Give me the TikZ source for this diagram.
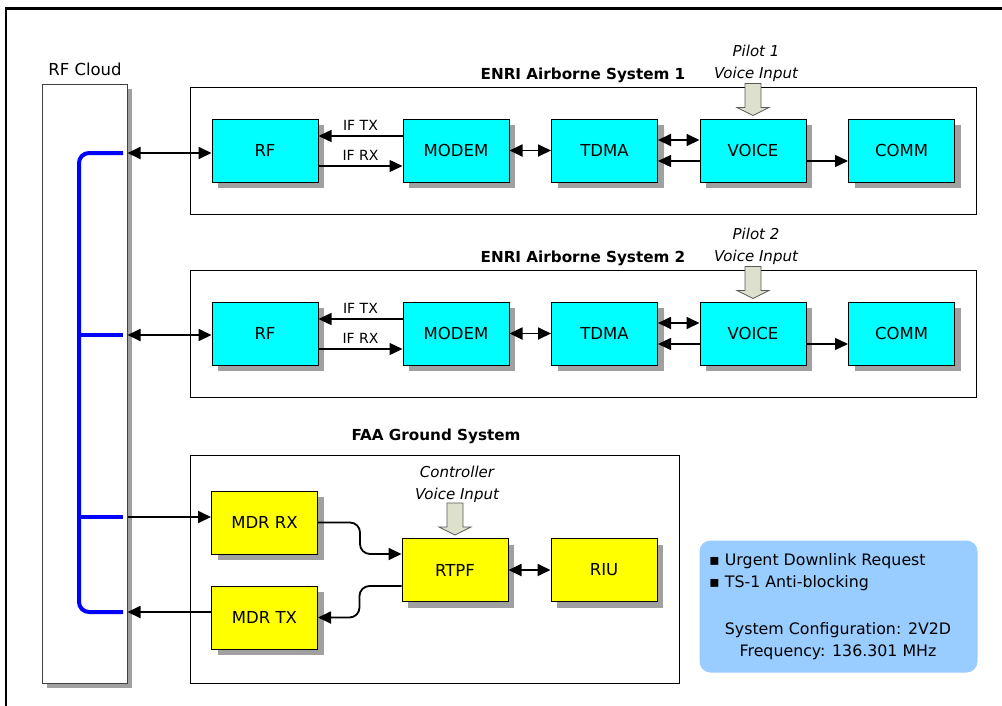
\documentclass[tikz,border=0pt]{standalone}
\usepackage{fontspec}
\setmainfont{DejaVu Sans}
\usetikzlibrary{arrows.meta,shadows,calc}
\definecolor{boxcyan}{RGB}{0,255,255}
\definecolor{boxyellow}{RGB}{255,255,0}
\definecolor{infoblue}{RGB}{153,204,255}
\definecolor{arrowfill}{RGB}{221,224,204}
\definecolor{shadowgray}{RGB}{160,160,160}
\definecolor{busblue}{RGB}{0,0,255}
\definecolor{cloudedge}{RGB}{64,64,64}
\newcommand\bxfnt{\fontsize{16.5}{19}\selectfont}
\newcommand\smfnt{\fontsize{14}{16}\selectfont}
\newcommand\ttlfnt{\fontsize{15.2}{18}\selectfont\bfseries}
\newcommand\itfnt{\fontsize{15}{22}\selectfont\itshape}
\newcommand\infnt{\fontsize{15.8}{18}\selectfont}
\begin{document}
\begin{tikzpicture}[x=1pt,y=-1pt,
  blk/.style={draw=black, line width=1pt, minimum width=106pt, minimum height=63pt, inner sep=0pt, font=\bxfnt,
    drop shadow={shadow xshift=6pt, shadow yshift=-6pt, fill=shadowgray, opacity=1}},
  cy/.style={blk, fill=boxcyan},
  yl/.style={blk, fill=boxyellow},
  grp/.style={draw=black, line width=0.9pt, fill=white, inner sep=0pt},
  arr/.style={line width=1.8pt, -{Triangle[length=13pt,width=12pt]}},
  dbl/.style={line width=1.8pt, {Triangle[length=13pt,width=12pt]}-{Triangle[length=13pt,width=12pt]}},
  thinarr/.style={line width=1.4pt, -{Triangle[length=13pt,width=12pt]}},
  blockarr/.style={draw=black!65, line width=0.8pt, fill=arrowfill},
  bus/.style={draw=busblue, line width=4pt},
]
\useasboundingbox (0,0) rectangle (1002,705);
% outer frame
\draw[line width=2.6pt] (6,706) -- (6,8.5) -- (1003,8.5);

% RF cloud
\node[font=\bxfnt] (cloudlbl) at (85,69) {RF Cloud};
\node[draw=cloudedge, line width=1pt, fill=white, minimum width=85pt, minimum height=599pt, inner sep=0pt,
  drop shadow={shadow xshift=5pt, shadow yshift=-5pt, fill=shadowgray, opacity=1}] (cloud) at (84.5,383.5) {};

% airborne systems
\foreach \n/\dy in {1/0,2/183}{
  \node[grp, minimum width=786pt, minimum height=127pt] (g\n) at (583,150.5+\dy) {};
  \node[font=\ttlfnt] (t\n) at (583,75+\dy) {ENRI Airborne System \n};
  \node[cy] (rf\n) at (265,150.5+\dy) {RF};
  \node[cy] (m\n) at (456,150.5+\dy) {MODEM};
  \node[cy] (td\n) at (604.5,150.5+\dy) {TDMA};
  \node[cy] (v\n) at (753,150.5+\dy) {VOICE};
  \node[cy] (cm\n) at (901.5,150.5+\dy) {COMM};
  \draw[thinarr] ([yshift=14.5pt]m\n.west) -- ([yshift=14.5pt]rf\n.east)
     node[midway, above=1pt, font=\smfnt] {IF TX};
  \draw[thinarr] ([yshift=-15.5pt]rf\n.east) -- ([yshift=-15.5pt]m\n.west)
     node[midway, above=1pt, font=\smfnt] {IF RX};
  \draw[dbl] (m\n.east) -- (td\n.west);
  \draw[dbl] ([yshift=10.5pt]td\n.east) -- ([yshift=10.5pt]v\n.west);
  \draw[thinarr] ([yshift=-10.5pt]v\n.west) -- ([yshift=-10.5pt]td\n.east);
  \draw[thinarr] ([yshift=-10.5pt]v\n.east) -- ([yshift=-10.5pt]cm\n.west);
  \draw[blockarr] (v\n.north) ++(-8,-35) -- ++(0,24) -- ++(-8,0) -- ++(16,8) -- ++(16,-8) -- ++(-8,0) -- ++(0,-24) -- cycle;
  \node[font=\itfnt, align=center] (p\n) at (756,63.5+\dy) {Pilot \n\\Voice Input};
}

% FAA ground system
\node[grp, minimum width=489pt, minimum height=228pt] (g3) at (434.5,569) {};
\node[font=\ttlfnt] (t3) at (436,436) {FAA Ground System};
\node[yl] (rx) at (264.5,522.5) {MDR RX};
\node[yl] (tx) at (264.5,617.5) {MDR TX};
\node[yl] (rtpf) at (455,570) {RTPF};
\node[yl] (riu) at (604,570) {RIU};
\draw[blockarr] (rtpf.north) ++(-8,-35) -- ++(0,24) -- ++(-8,0) -- ++(16,8) -- ++(16,-8) -- ++(-8,0) -- ++(0,-24) -- cycle;
\node[font=\itfnt, align=center] (ctl) at (457,484) {Controller\\Voice Input};
\draw[arr, rounded corners=10pt] (rx.east) -- ++(42,0) |- ([yshift=16pt]rtpf.west);
\draw[arr, rounded corners=10pt] ([yshift=-16pt]rtpf.west) -- ++(-42,0) |- (tx.east);
\draw[dbl] (rtpf.east) -- (riu.west);

% bus inside cloud
\coordinate (j1) at (123,153);
\coordinate (j2) at (123,335);
\coordinate (j3) at (123,517);
\coordinate (j4) at (123,612);
\draw[bus, rounded corners=10pt] (j1) -| (79,612) -- (j4);
\draw[bus] (79,335) -- (j2);
\draw[bus] (79,517) -- (j3);

% cloud connectors
\draw[dbl] (cloud.east |- j1) -- (rf1.west |- j1);
\draw[dbl] (cloud.east |- j2) -- (rf2.west |- j2);
\draw[arr] (cloud.east |- j3) -- (rx.west |- j3);
\draw[arr] (tx.west |- j4) -- (cloud.east |- j4);

% info box
\node[fill=infoblue, rounded corners=11pt, minimum width=278pt, minimum height=132pt, inner sep=0pt] (info) at (838.5,606.5) {};
\node[font=\infnt, anchor=west, inner sep=0pt] (b1) at (709,561) {▪ Urgent Downlink Request};
\node[font=\infnt, anchor=west, inner sep=0pt] (b2) at (709,583) {▪ TS-1 Anti-blocking};
\node[font=\infnt] (cfg) at (838,630) {System Configuration: 2V2D};
\node[font=\infnt] (frq) at (838,652) {Frequency: 136.301 MHz};
\end{tikzpicture}
\end{document}
